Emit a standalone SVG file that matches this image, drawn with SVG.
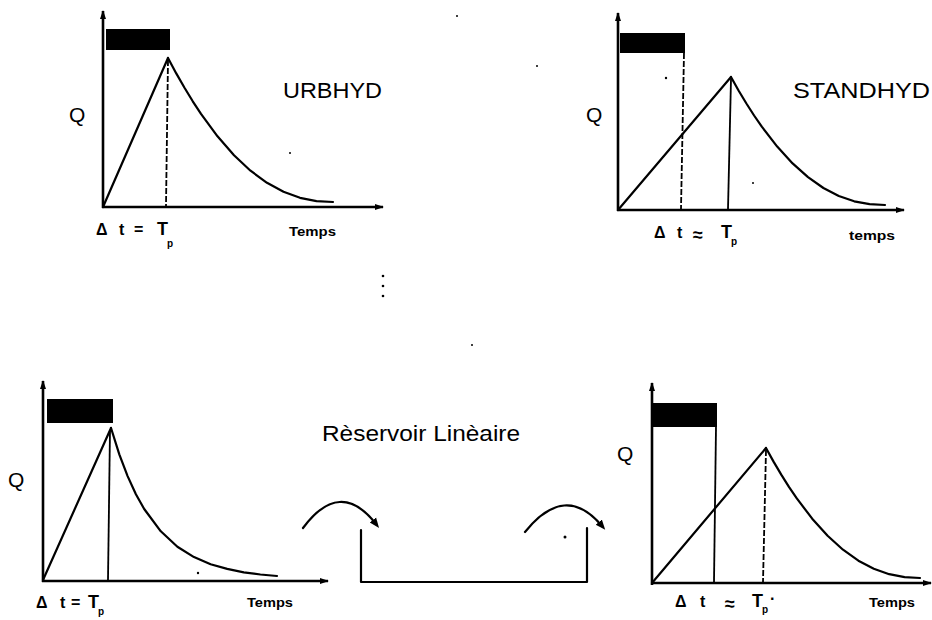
<svg xmlns="http://www.w3.org/2000/svg" width="932" height="620" viewBox="0 0 932 620">
<defs>
<marker id="ah" markerWidth="9" markerHeight="7" refX="8" refY="3.5" orient="auto" markerUnits="userSpaceOnUse">
<path d="M0,0.5 L9,3.5 L0,6.5 z" fill="#000"/>
</marker>
<marker id="ch" markerWidth="10" markerHeight="10" refX="5" refY="5" orient="auto" markerUnits="userSpaceOnUse">
<path d="M0,1 L10,5 L0,9 z" fill="#000"/>
</marker>
</defs>
<style>
.ax{stroke:#000;stroke-width:2.6;fill:none;marker-end:url(#ah)}
.ln{stroke:#000;stroke-width:2.2;fill:none;stroke-linejoin:round;stroke-linecap:round}
.ds{stroke:#000;stroke-width:1.8;fill:none;stroke-dasharray:6 2}
.vs{stroke:#000;stroke-width:1.8;fill:none}
.rain{fill:#000}
.q{font-family:"Liberation Sans",Arial,sans-serif;font-size:21px;fill:#000}
.ttl{font-family:"Liberation Sans",Arial,sans-serif;font-size:22px;fill:#000}
.tm{font-family:"Liberation Sans",Arial,sans-serif;font-size:12px;font-weight:bold;fill:#000}
.eq{font-family:"Liberation Sans",Arial,sans-serif;font-size:16px;font-weight:bold;fill:#000}
.bg{font-size:18px}
.sub{font-size:10px}
.dot{fill:#000}
</style>
<rect width="932" height="620" fill="#fff"/>

<g id="urbhyd">
<line class="ax" x1="103" y1="208" x2="103" y2="11"/>
<line class="ax" x1="102" y1="207" x2="383" y2="207"/>
<rect class="rain" x="106" y="29" width="64" height="21"/>
<line class="ln" x1="103" y1="207" x2="168" y2="58"/>
<line class="ds" x1="168" y1="60" x2="166" y2="206"/>
<polyline class="ln" points="168,58 176.25,73.4 184.5,87.8 192.75,101.3 201,113.9 217.5,136.3 234,155.2 250.5,170.7 267,182.8 283.5,191.8 300,197.8 316.5,201.1 333,202"/>
<text class="q" x="69" y="122">Q</text>
<text class="ttl" x="283" y="98" textLength="99" lengthAdjust="spacingAndGlyphs">URBHYD</text>
<text class="eq" y="235"><tspan x="96">Δ</tspan><tspan x="119">t</tspan><tspan x="134">=</tspan><tspan x="157" class="bg">T</tspan><tspan x="167" y="247" class="sub">p</tspan></text>
<text class="tm" x="289" y="236" textLength="47" lengthAdjust="spacingAndGlyphs">Temps</text>
</g>

<g id="standhyd">
<line class="ax" x1="618" y1="211" x2="618" y2="13"/>
<line class="ax" x1="617" y1="210" x2="904" y2="210"/>
<rect class="rain" x="620" y="33" width="65" height="20"/>
<line class="ln" x1="618" y1="210" x2="731" y2="77"/>
<line class="ds" x1="684" y1="53" x2="681" y2="209"/>
<line class="vs" x1="731" y1="79" x2="728" y2="209"/>
<polyline class="ln" points="731,77 738.7,90.7 746.4,103.5 754.1,115.5 761.8,126.7 777.2,146.6 792.6,163.4 808,177.1 823.4,188 838.8,196 854.2,201.3 869.6,204.2 885,205"/>
<text class="q" x="586" y="122">Q</text>
<text class="ttl" x="793" y="98" textLength="137" lengthAdjust="spacingAndGlyphs">STANDHYD</text>
<text class="eq" y="238"><tspan x="654">Δ</tspan><tspan x="677">t</tspan><tspan x="693" y="241" class="bg">≈</tspan><tspan x="721" y="238" class="bg">T</tspan><tspan x="731" y="245" class="sub">p</tspan></text>
<text class="tm" x="849" y="240" textLength="46" lengthAdjust="spacingAndGlyphs">temps</text>
</g>

<g id="reservoir-lineaire">
<line class="ax" x1="43" y1="582" x2="43" y2="381"/>
<line class="ax" x1="42" y1="581" x2="328" y2="581"/>
<rect class="rain" x="47" y="399" width="66" height="24"/>
<line class="ln" x1="43" y1="580" x2="111" y2="428"/>
<line class="vs" x1="110" y1="430" x2="108" y2="580"/>
<polyline class="ln" points="111,428 119.3,454.3 127.6,476.1 135.9,494.2 144.2,509 160.8,531.3 177.4,546.7 194,557.1 210.6,564.2 227.2,568.9 243.8,572.3 260.4,574.5 277,576"/>
<text class="q" x="8" y="487">Q</text>
<text class="eq" y="608"><tspan x="36">Δ</tspan><tspan x="60">t</tspan><tspan x="71">=</tspan><tspan x="88" class="bg">T</tspan><tspan x="98" y="615" class="sub">p</tspan></text>
<text class="tm" x="247" y="607" textLength="46" lengthAdjust="spacingAndGlyphs">Temps</text>
<text class="ttl" x="322" y="441" textLength="198" lengthAdjust="spacingAndGlyphs">Rèservoir Linèaire</text>
<path class="ln" d="M361,530 L361,582 L587,582 L587,528"/>
</g>

<g id="sortie">
<line class="ax" x1="652" y1="585" x2="652" y2="383"/>
<line class="ax" x1="651" y1="583" x2="931" y2="583"/>
<rect class="rain" x="653" y="403" width="64" height="24"/>
<line class="ln" x1="652" y1="583" x2="766" y2="448"/>
<line class="vs" x1="716" y1="427" x2="714" y2="582"/>
<line class="ds" x1="766" y1="450" x2="763" y2="582"/>
<polyline class="ln" points="766,448 773.7,461.9 781.4,474.9 789.1,487.1 796.8,498.4 812.2,518.7 827.6,535.8 843,549.7 858.4,560.7 873.8,568.8 889.2,574.2 904.6,577.2 920,578"/>
<text class="q" x="617" y="461">Q</text>
<text class="eq" y="607"><tspan x="675">Δ</tspan><tspan x="700">t</tspan><tspan x="725" y="610" class="bg">≈</tspan><tspan x="752" y="607" class="bg">T</tspan><tspan x="762" y="613" class="sub">p</tspan><tspan x="770" y="604">·</tspan></text>
<text class="tm" x="869" y="607" textLength="46" lengthAdjust="spacingAndGlyphs">Temps</text>
</g>

<g id="connectors">
<path class="ln" d="M303,528 Q340,478 376,524" marker-end="url(#ch)"/>
<path class="ln" d="M525,532 Q565,482 602,526" marker-end="url(#ch)"/>
</g>

<g id="marks">
<circle class="dot" cx="383" cy="276" r="1.3"/>
<circle class="dot" cx="383" cy="286" r="1.3"/>
<circle class="dot" cx="383" cy="296" r="1.3"/>
<circle class="dot" cx="457" cy="16" r="1"/>
<circle class="dot" cx="537" cy="66" r="1"/>
<circle class="dot" cx="666" cy="78" r="1.2"/>
<circle class="dot" cx="290" cy="153" r="1"/>
<circle class="dot" cx="753" cy="183" r="1"/>
<circle class="dot" cx="472" cy="345" r="1"/>
<circle class="dot" cx="565" cy="537" r="1.5"/>
<circle class="dot" cx="198" cy="573" r="1.2"/>
</g>
</svg>
